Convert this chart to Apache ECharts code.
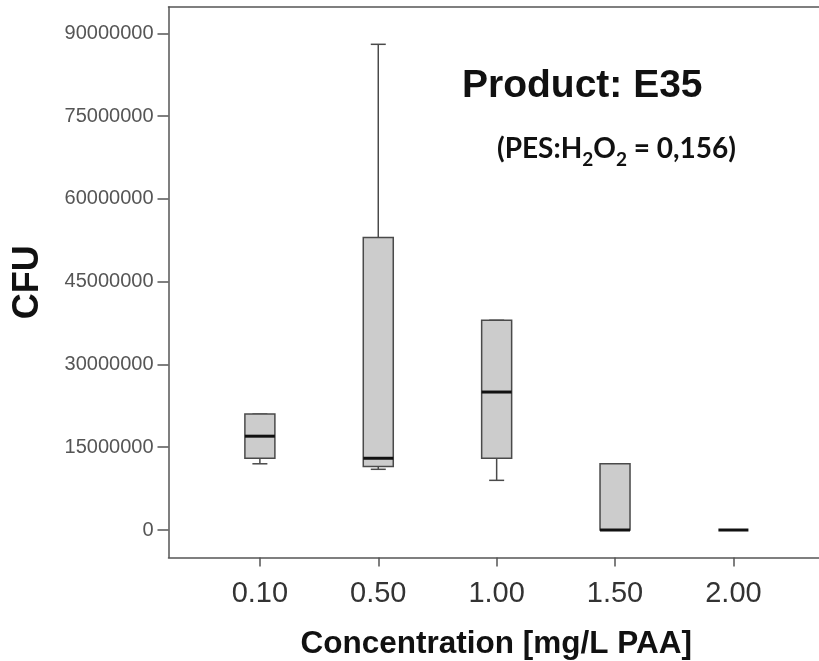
<!DOCTYPE html>
<html>
<head>
<meta charset="utf-8">
<script src="https://cdn.jsdelivr.net/npm/echarts@6/dist/echarts.min.js"></script>
<style>
  html, body { margin: 0; padding: 0; background: #fff; }
  #chart { width: 819px; height: 661px; }
</style>
</head>
<body>
<div id="chart"></div>
<script>
// Concentration groups and the five-number summary of CFU per group
const categories = ['0.10', '0.50', '1.00', '1.50', '2.00'];
const whiskerLow  = [12000000, 11000000,  9000000,        0, 0];
const quartile1   = [13000000, 11500000, 13000000,        0, 0];
const medians     = [17000000, 13000000, 25000000,        0, 0];
const quartile3   = [21000000, 53000000, 38000000, 12000000, 0];
const whiskerHigh = [21000000, 88000000, 38000000, 12000000, 0];
const yTicks = [0, 15000000, 30000000, 45000000, 60000000, 75000000, 90000000];

const boxData = categories.map((c, i) =>
  [i, whiskerLow[i], quartile1[i], medians[i], quartile3[i], whiskerHigh[i]]);

const LINE = '#4a4a4a';
const FRAME = { color: '#555', width: 1.5 };

function renderBox(params, api) {
  const x = api.value(0);
  const lo = api.coord([x, api.value(1)]);
  const q1 = api.coord([x, api.value(2)]);
  const md = api.coord([x, api.value(3)]);
  const q3 = api.coord([x, api.value(4)]);
  const hi = api.coord([x, api.value(5)]);
  const cx = lo[0];
  const half = 15, cap = 7.5;
  const thin = { stroke: LINE, lineWidth: 1.5, fill: null };
  const children = [];
  // whiskers with end caps
  children.push({ type: 'line', shape: { x1: cx, y1: lo[1], x2: cx, y2: q1[1] }, style: thin });
  children.push({ type: 'line', shape: { x1: cx, y1: q3[1], x2: cx, y2: hi[1] }, style: thin });
  children.push({ type: 'line', shape: { x1: cx - cap, y1: lo[1], x2: cx + cap, y2: lo[1] }, style: thin });
  children.push({ type: 'line', shape: { x1: cx - cap, y1: hi[1], x2: cx + cap, y2: hi[1] }, style: thin });
  // interquartile box
  if (q1[1] - q3[1] > 0.5) {
    children.push({
      type: 'rect',
      shape: { x: cx - half, y: q3[1], width: half * 2, height: q1[1] - q3[1] },
      style: { fill: '#cccccc', stroke: LINE, lineWidth: 1.5 }
    });
  }
  // median
  children.push({
    type: 'line',
    shape: { x1: cx - half, y1: md[1], x2: cx + half, y2: md[1] },
    style: { stroke: '#111', lineWidth: 3 }
  });
  return { type: 'group', children };
}

const chart = echarts.init(document.getElementById('chart'), null, { renderer: 'canvas' });
chart.setOption({
  backgroundColor: '#ffffff',
  animation: false,
  grid: { left: 168.5, right: 0, top: 7, bottom: 103.5, outerBoundsMode: 'none', containLabel: false },
  xAxis: [{
    type: 'value',
    position: 'bottom',
    min: -0.772, max: 4.723,
    name: 'Concentration [mg/L PAA]',
    nameLocation: 'middle',
    nameGap: 71,
    nameTextStyle: {
      fontFamily: 'Liberation Sans', fontWeight: 'bold', fontSize: 31.5, color: '#111',
      padding: [0, 0, 0, 5]
    },
    axisLine: { show: true, onZero: false, lineStyle: FRAME },
    axisTick: { show: true, length: 9, customValues: [0, 1, 2, 3, 4], lineStyle: FRAME },
    axisLabel: {
      customValues: [0, 1, 2, 3, 4],
      formatter: v => categories[Math.round(v)],
      fontFamily: 'Liberation Sans', fontSize: 29, color: '#333', margin: 22
    },
    splitLine: { show: false }
  }, {
    // top edge of the plot frame
    type: 'value',
    position: 'top',
    min: -0.772, max: 4.723,
    axisLine: { show: true, onZero: false, lineStyle: FRAME },
    axisTick: { show: false },
    axisLabel: { show: false },
    splitLine: { show: false }
  }],
  yAxis: {
    type: 'value',
    min: -4980000, max: 94760000,
    name: 'CFU',
    nameLocation: 'middle',
    nameGap: 122,
    nameTextStyle: { fontFamily: 'Liberation Sans', fontWeight: 'bold', fontSize: 36, color: '#111' },
    axisLine: { show: true, onZero: false, lineStyle: FRAME },
    axisTick: { show: true, length: 11, customValues: yTicks, lineStyle: FRAME },
    axisLabel: {
      customValues: yTicks,
      formatter: v => String(v),
      fontFamily: 'Liberation Sans', fontSize: 20, color: '#555', margin: 15
    },
    splitLine: { show: false }
  },
  graphic: [
    {
      type: 'text', left: 462, top: 67,
      style: { text: 'Product: E35', font: 'bold 39px "Liberation Sans"', fill: '#111' }
    },
    {
      type: 'text', left: 497, top: 135,
      style: {
        text: '{a|(PES:H}{s|2}{a|O}{s|2}{a| = 0,156)}',
        rich: {
          a: { fontFamily: 'Lato', fontWeight: 'bold', fontSize: 28, fill: '#111' },
          s: { fontFamily: 'Lato', fontWeight: 'bold', fontSize: 19, fill: '#111', padding: [22, 0, 0, 0] }
        }
      }
    }
  ],
  series: [{
    type: 'custom',
    renderItem: renderBox,
    data: boxData,
    encode: { x: 0, y: [1, 2, 3, 4, 5] },
    clip: false
  }]
});
</script>
</body>
</html>
